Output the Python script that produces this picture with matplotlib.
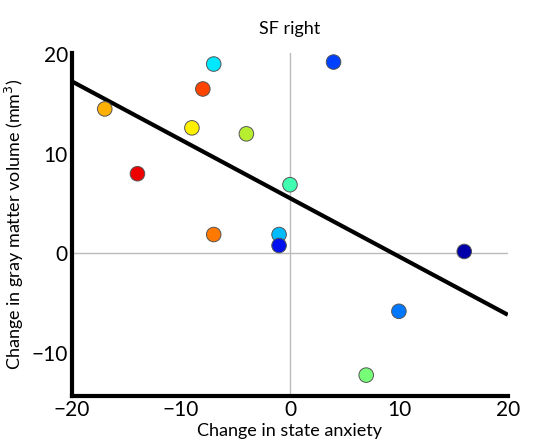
import matplotlib
matplotlib.use("Agg")
import matplotlib.pyplot as plt

# 資料
anxiety = [-17, -14, -8, -7, -9, -4, 0, 4, -7, -1, -1, 16, 10, 7]
volume = [14.5, 8.0, 16.5, 19.0, 12.6, 12.0, 6.9, 19.2, 1.9, 1.9, 0.8, 0.2, -5.8, -12.2]
colors = ["#FFB000", "#EE0000", "#FF4400", "#00E8FF", "#FFF000", "#B8EE30", "#40FFB0",
          "#0040FF", "#FF7800", "#00BBFF", "#0010EE", "#0000AA", "#0078FF", "#78FF78"]
fit_slope = -0.585
fit_intercept = 5.55
x_range = [-20, 20]

plt.rcParams["font.family"] = ["Lato", "DejaVu Sans"]

fig = plt.figure(figsize=(5.34, 4.46), dpi=100)
ax = fig.add_axes([0.135, 0.112, 0.816, 0.769])

# 參考線
ax.axhline(0, color="#bbbbbb", linewidth=1, zorder=1)
ax.axvline(0, color="#bbbbbb", linewidth=1, zorder=1)

# 回歸線
fit_y = [fit_slope * x + fit_intercept for x in x_range]
ax.plot(x_range, fit_y, color="black", linewidth=3, zorder=2, solid_capstyle="butt")

ax.scatter(anxiety, volume, c=colors, s=110, edgecolors="#555555", linewidths=0.7, zorder=3)

ax.set_xlim(-20, 20)
ax.set_ylim(-14.3, 20.1)
ax.set_xticks([-20, -10, 0, 10, 20])
ax.set_yticks([-10, 0, 10, 20])
ax.tick_params(length=0, labelsize=15, pad=3)

for side in ["top", "right"]:
    ax.spines[side].set_visible(False)
for side in ["left", "bottom"]:
    ax.spines[side].set_linewidth(3)

ax.set_xlabel("Change in state anxiety", fontsize=13, labelpad=2)
ax.set_ylabel("Change in gray matter volume (mm$^3$)", fontsize=13, labelpad=4)
ax.set_title("SF right", fontsize=13, pad=14)

plt.savefig("out.png", dpi=100)
plt.close()
